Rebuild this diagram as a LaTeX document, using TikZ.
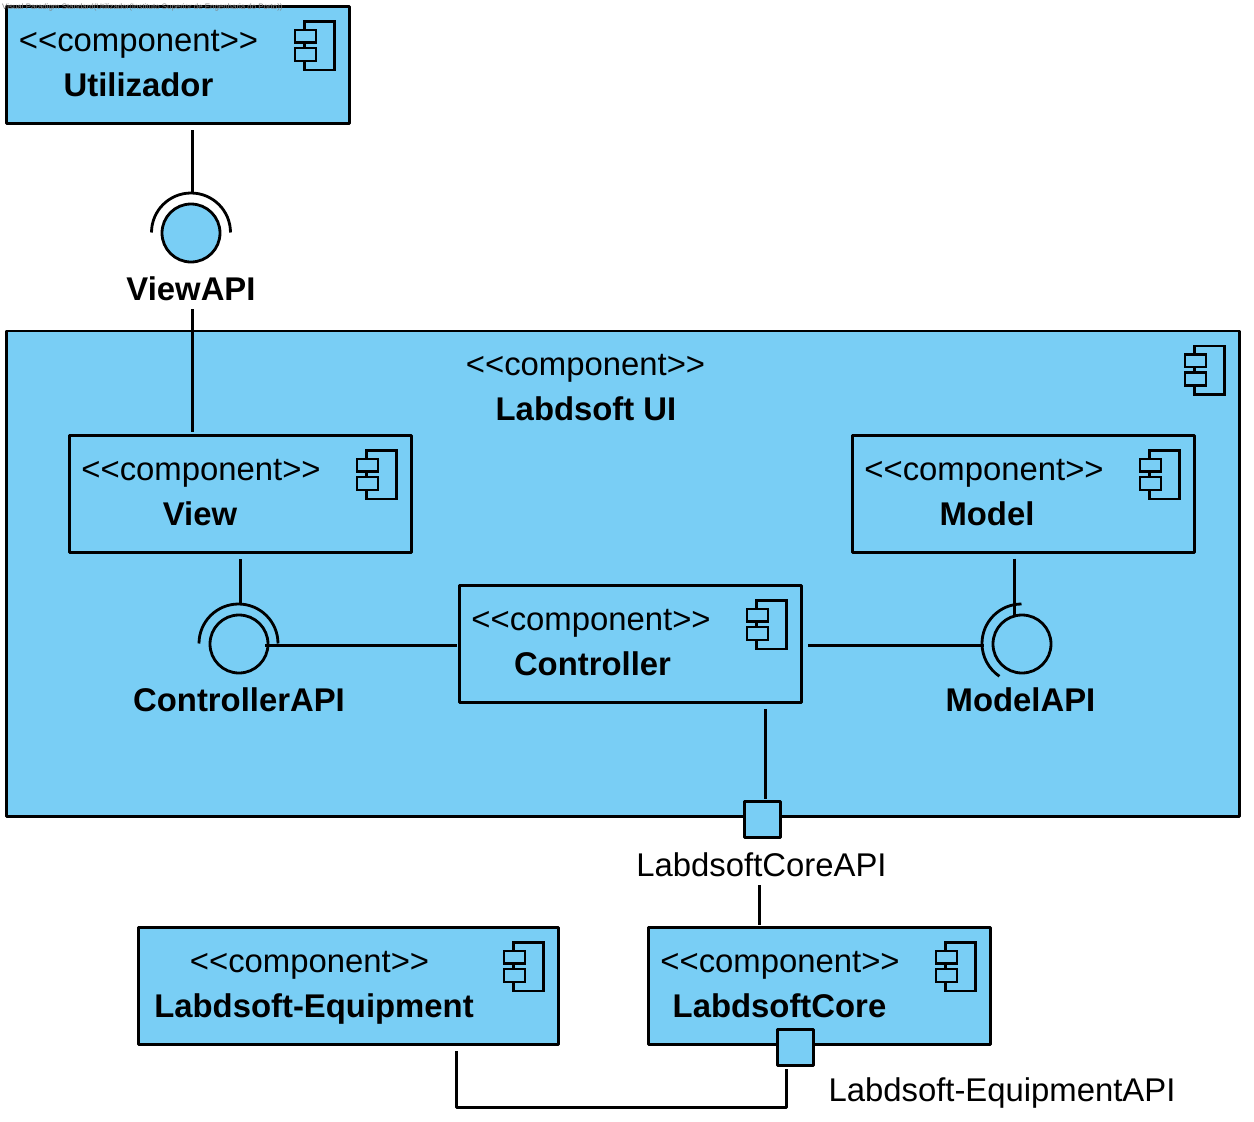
\documentclass[tikz,border=0pt]{standalone}
\usepackage{fontspec}
\setmainfont{Liberation Sans}
\definecolor{vpblue}{RGB}{121,206,245}
\tikzset{
  x=1pt,y=1pt,
  comp/.style={draw=black,fill=vpblue,line width=2.8pt,rectangle,inner sep=0pt,outer sep=0pt,line join=round},
  ico/.style={draw=black,fill=vpblue,line width=2.8pt},
  stereo/.style={font=\fontsize{32.85}{34}\selectfont,inner sep=0pt,anchor=west,text=black},
  cname/.style={font=\fontsize{32.85}{34}\selectfont\bfseries,inner sep=0pt,text=black},
  plainlabel/.style={font=\fontsize{32.85}{34}\selectfont,inner sep=0pt,text=black},
  conn/.style={draw=black,line width=2.8pt},
  iface/.style={circle,draw=black,line width=2.8pt,minimum size=58pt,inner sep=0pt,outer sep=0pt},
  port/.style={rectangle,draw=black,fill=vpblue,line width=2.8pt,minimum size=36pt,inner sep=0pt,outer sep=0pt,line join=round},
}
% name, left, top, right, bottom, text left, stereotype y, name x, name y, name
\newcommand{\compbox}[9]{%
  \node[comp,minimum width=#4pt-#2pt,minimum height=#5pt-#3pt,anchor=north west] (#1) at (#2,-#3) {};
  \drawcompicon{#4}{#3}
  \node[stereo] (#1st) at (#6,-#7) {<{}<component>{}>};
  \node[cname] (#1nm) at (#8,-#9) {\compname};
}
\newcommand{\compname}{}
\newcommand{\drawcompicon}[2]{%
  \pgfmathsetmacro{\icr}{#1}\pgfmathsetmacro{\ict}{#2}
  \draw[ico] (\icr-45,-\ict-15) rectangle (\icr-15,-\ict-63.5);
  \draw[ico] (\icr-54.5,-\ict-23.5) rectangle (\icr-33.5,-\ict-36);
  \draw[ico] (\icr-54.5,-\ict-41.5) rectangle (\icr-33.5,-\ict-54.5);
}
\begin{document}
\begin{tikzpicture}
\useasboundingbox (0,0) rectangle (1254,-1122);
\fill[white] (0,0) rectangle (1254,-1122);

% main container first
\renewcommand{\compname}{Labdsoft UI}
\compbox{ui}{6.5}{331}{1239.5}{816.5}{465.7}{368}{586}{409}
\renewcommand{\compname}{Utilizador}
\compbox{util}{6.5}{6.5}{349.5}{123.5}{18.7}{44}{138.5}{85}
\renewcommand{\compname}{View}
\compbox{view}{69.5}{435.5}{411.5}{552.5}{81.2}{473}{200}{514}
\renewcommand{\compname}{Model}
\compbox{model}{852.5}{435.5}{1194.5}{552.5}{864.2}{473}{987}{514}
\renewcommand{\compname}{Controller}
\compbox{ctrl}{459.5}{585.5}{801.5}{702.5}{471.2}{623}{592.5}{664}
\renewcommand{\compname}{Labdsoft-Equipment}
\compbox{equip}{138.5}{927.5}{558.5}{1044.5}{189.7}{965}{314}{1009}
\renewcommand{\compname}{LabdsoftCore}
\compbox{core}{648.5}{927.5}{990.5}{1044.5}{660.2}{965}{779.5}{1006}

% provided interface circles
\node[iface,fill=vpblue] (vapi) at (191,-233) {};
\node[iface] (capi) at (239,-644) {};
\node[iface] (mapi) at (1022,-644) {};

% required interface sockets
\coordinate (vsock) at (191,-232.5);
\coordinate (csock) at (238.5,-643.5);
\coordinate (msock) at (1021.5,-643.5);
\draw[conn] (vsock) ++(180:39.5) arc[start angle=180,end angle=0,radius=39.5];
\draw[conn] (csock) ++(180:39.5) arc[start angle=180,end angle=0,radius=39.5];
\draw[conn] (msock) ++(90:39.5) arc[start angle=90,end angle=236,radius=39.5];

% labels
\node[cname] (vlab) at (191,-289) {ViewAPI};
\node[cname] (clab) at (239,-700) {ControllerAPI};
\node[cname] (mlab) at (1020.5,-700) {ModelAPI};
\node[plainlabel] (lcapi) at (761.5,-865) {LabdsoftCoreAPI};
\node[plainlabel] (leapi) at (1002,-1093) {Labdsoft-EquipmentAPI};

% ports
\node[port] (pcore) at (762.5,-819.5) {};
\node[port] (pequip) at (795.5,-1047.5) {};

% connectors
\coordinate (v1) at (192.5,-193);
\coordinate (v2) at (192.5,-263);
\coordinate (v3) at (192.5,-309);
\coordinate (c1) at (240.5,-604);
\coordinate (c2) at (265,-645.5);
\coordinate (m1) at (1014.5,-616);
\coordinate (m2) at (984,-645.5);
\draw[conn] (util.south -| v1) ++(0,-6.5) -- (v1);
\draw[conn] (v2) -- ++(0,2);
\draw[conn] (v3) -- ([yshift=2pt]ui.north -| v3) -- ++(0,-103);
\draw[conn] (view.south -| c1) ++(0,-6.5) -- (c1);
\draw[conn] (c2) -- ([xshift=-3pt]ctrl.west |- c2);
\draw[conn] (model.south -| m1) ++(0,-6) -- (m1);
\draw[conn] ([xshift=6.5pt]ctrl.east |- m2) -- (m2);
\coordinate (k1) at (765.5,-799);
\draw[conn] (ctrl.south -| k1) ++(0,-6.5) -- (k1);
\coordinate (k2) at (759.5,-885);
\draw[conn] (k2) -- ([yshift=2.5pt]core.north -| k2);
\coordinate (e1) at (786.5,-1069);
\coordinate (e2) at (786.5,-1107.5);
\coordinate (e3) at (456.5,-1107.5);
\coordinate (e4) at (456.5,-1051);
\draw[conn,line join=round] (e1) -- (e2) -- (e3) -- (e4);

% watermark
\node[font=\fontsize{7.9}{9}\selectfont,text=black!50,inner sep=0pt,anchor=west] (wm) at (2,-7) {Visual Paradigm Standard(Utilizador(Instituto Superior de Engenharia do Porto))};
\end{tikzpicture}
\end{document}
